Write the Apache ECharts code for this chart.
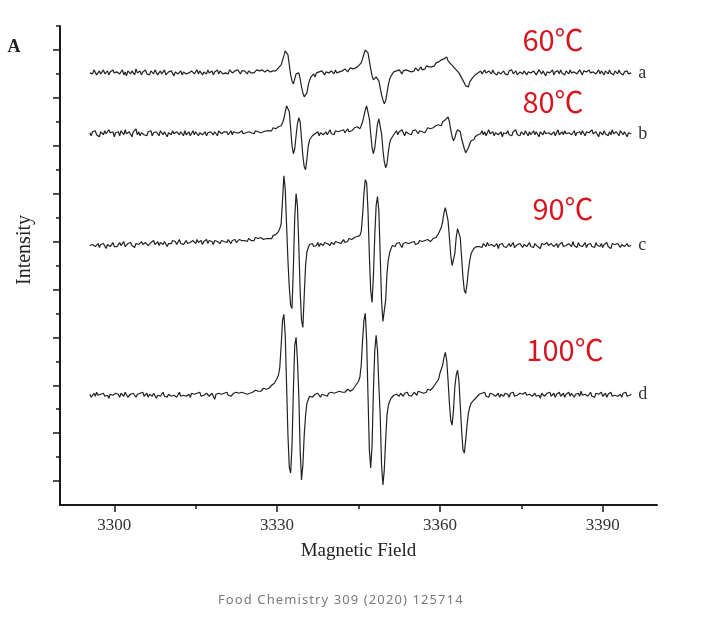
<!DOCTYPE html>
<html>
<head>
<meta charset="utf-8">
<script src="https://cdn.jsdelivr.net/npm/echarts@6/dist/echarts.min.js"></script>
<style>
  html, body { margin:0; padding:0; background:#fff; }
  #wrap { position:relative; width:718px; height:625px; }
  #chart { position:absolute; left:0; top:0; width:718px; height:625px; }
  #caption { position:absolute; left:218px; top:590px; font-family:'Noto Sans', sans-serif; font-size:13px; letter-spacing:1.1px; color:#7a7a7a; white-space:nowrap; }
</style>
</head>
<body>
<div id="wrap">
  <div id="chart"></div>
  <div id="caption">Food Chemistry 309 (2020) 125714</div>
</div>
<script>
// Sampling grid of the spectra (Gauss)
const fieldStart = 3295.5;
const fieldStep = 0.25;

const traceNames = ['a', 'b', 'c', 'd'];
const temperatures = ['60℃', '80℃', '90℃', '100℃'];
const traceOffsets = [433, 372, 260, 110];

const xTickValues = [3300, 3330, 3360, 3390];
const xMinorTickValues = [3315, 3345, 3375];
const yTickValues = [24, 72, 120, 168, 216, 264, 312, 360, 408, 456];
const yMinorTickValues = [48, 96, 144, 192, 240, 288, 336, 384, 432, 480];

// Trace a (60℃), intensity relative to its baseline
const traceA = [
  0,2,-1,3,1,-2,0,2,-1,1, 3,-1,0,2,-2,1,-1,3,0,-2, 1,2,-1,0,3,-2,1,-3,2,0, -1,2,1,-2,4,0,-1,2,-2,1,
  0,3,-1,1,-2,2,0,-1,3,1, -2,0,2,-1,1,3,-2,0,1,-1, 2,0,-3,1,2,-1,0,2,-2,1, 3,-1,1,0,-2,2,1,-1,0,3,
  -1,2,0,-2,1,1,-1,3,0,-1, 2,-2,1,0,3,-1,2,0,-1,1, 0,2,-1,3,1,0,-2,2,1,3, 1,-1,2,0,2,1,-1,2,3,0,
  2,0,1,3,1,2,0,3,2,1, 2,3,
  2,1,3,2,4,2,4,5,6,8, 10,17,22,23,18,8,-2,-8,-11,-6, -1,1,0,-6,-14,-20,-24,-26,-20,-12, -7,-4,
  -3,-1,-4,0,-2,1,-1,2,0,-2, 1,3,0,-1,2,1,-1,3,0,2, 1,3,2,0,4,2,1,3,5,3,
  4,2,5,4,7,6,10,14,19,23, 24,20,12,4,-3,-7,-8,-4,-3,-8, -15,-22,-27,-31,-28,-20,-12,-6,-3,-1,
  1,-1,2,0,3,1,-1,2,0,3, 1,2,4,1,3,2,5,3,2,4, 6,3,5,4,7,5,6,8,
  6,8,7,10,8,11,10,13,11,14, 13,16,12,11,9,10,6,7,3,4, 0,-1,-5,-6,-10,-13,-12,-14,-9,-8, -5,-6,-2,-3,0,-1,
  2,-1,1,3,0,-2,2,1,-1,3, 0,2,-2,1,3,-1,0,2,-1,1, -2,2,0,3,-1,1,2,-2,0,1, 3,-1,2,0,-2,1,3,0,-1,2,
  1,-2,0,3,1,-1,2,0,-3,1, 2,0,-1,3,-2,1,0,2,-1,3, 0,1,-2,2,1,-1,3,0,-2,1, 2,-1,0,3,1,-2,2,0,1,-1,
  3,0,-2,1,2,-1,0,3,-1,2, 0,-2,2,1,-1,3,0,1,-2,2, 1,-1,3,0,2,-2,1,0,2,-1, 1,0
];

// Trace b (80℃)
const traceB = [
  1,-2,2,0,3,-1,1,-3,2,0, -1,3,0,-2,4,1,-1,2,-3,1, 0,2,-2,3,1,-1,4,0,-2,2, 1,-3,2,0,5,-1,2,-2,1,3,
  -1,1,-2,2,0,3,-2,1,-1,2, 0,-2,3,1,-1,2,0,-3,1,2, -1,3,0,-2,2,1,-1,2,0,-2, 3,-1,1,2,-2,0,3,-1,2,0,
  -2,1,3,-1,0,2,-2,1,0,2, 1,-1,2,0,-2,3,1,0,-1,2, 0,2,-1,1,3,-1,2,0,1,3, 1,-1,3,0,2,1,-1,2,3,1,
  2,0,3,1,2,4,1,3,2,4, 3,5,
  3,5,3,6,4,5,4,7,6,8, 11,15,22,28,30,22,5,-12,-20,-15, -2,10,16,12,-5,-22,-33,-36,-25,-12, -6,-4,
  -2,-4,0,-1,2,-2,1,3,-1,0, 2,-1,1,4,0,2,-1,3,1,2, 0,3,2,4,1,3,5,2,4,3,
  4,6,4,7,6,5,8,12,18,24, 28,27,15,0,-14,-20,-14,-2,10,15, 13,0,-16,-28,-34,-30,-18,-9,-5,-3,
  -1,1,3,-1,2,0,4,1,-2,2, 3,0,2,-1,3,1,4,2,0,3, 5,2,4,1,3,6,4,5,
  4,6,5,8,6,9,10,8,12,11, 14,15,17,12,4,-3,-7,-4,1,4, 6,2,-5,-10,-15,-19,-18,-14,-10,-7, -5,-6,-3,-2,-1,1,
  0,3,-1,2,-2,1,4,0,-1,2, -2,1,3,-1,0,2,-3,1,2,0, 3,-1,1,-2,2,0,4,-1,1,-2, 2,0,-1,3,1,-2,2,-1,0,3,
  -1,2,0,-3,2,1,-1,3,0,-2, 1,3,-1,0,2,-2,1,4,-1,0, 2,-1,3,0,-2,1,2,-1,0,3, -2,1,0,2,-1,3,1,-2,2,0,
  1,-1,4,0,-2,2,1,-3,2,1, -1,3,0,1,-2,2,-1,4,0,-1, 2,0,-2,3,1,-1,2,0,-3,1, 2,0
];

// Trace c (90℃)
const traceC = [
  0,-2,1,3,-1,0,2,-2,1,-1, 2,0,-3,1,2,-1,0,3,-1,1, -1,1,3,0,2,4,-1,1,2,0, 3,0,1,-2,2,3,1,-1,4,1,
  1,3,4,0,2,3,1,5,1,2, 4,0,3,2,1,4,3,-1,2,3, 2,5,3,4,1,3,6,2,4,1, 3,5,2,4,3,1,5,4,2,6,
  3,2,5,1,4,3,6,2,5,3, 4,1,5,3,4,6,2,5,3,4, 5,3,6,4,2,5,4,6,3,5, 6,4,5,7,5,6,4,7,6,5,
  7,5,8,6,7,5,8,7,6,8, 7,8,
  7,9,7,10,9,11,12,14,17,22, 45,70,57,20,-15,-42,-60,-63,-22,28, 52,40,0,-45,-75,-82,-50,-20,-6,-2, 1,-1,
  2,-1,1,0,3,-1,2,1,0,3, 1,2,4,0,3,2,1,4,2,3, 5,2,4,6,3,5,4,7,5,6,
  6,8,6,9,8,10,14,30,52,66, 63,35,-10,-45,-57,-30,10,40,49,35, -10,-55,-76,-78,-55,-28,-14,-7,-3,0,
  1,-1,2,0,3,1,-2,2,0,3, 1,2,0,3,2,4,1,3,2,5, 3,4,2,5,4,6,5,4,
  5,7,6,8,10,12,11,18,24,33, 38,37,25,8,-10,-20,-22,-8,8,17, 19,8,-12,-32,-45,-48,-38,-25,-15,-8, -6,-3,-4,-1,1,-1,
  1,-2,2,0,-1,3,0,-2,1,2, -1,0,2,-3,1,0,2,-1,1,-2, 0,2,-1,1,3,-2,0,1,-1,2, 0,-2,1,2,-1,0,3,-1,1,-2,
  2,0,-1,1,-3,2,0,1,-1,3, 0,-2,2,1,-1,0,2,-2,1,0, 3,-1,1,0,-2,2,1,-1,4,0, 1,-2,3,0,2,-1,1,3,-2,1,
  0,2,-1,1,-2,3,0,1,-1,2, -2,1,0,3,-1,1,-3,2,0,1, -1,2,0,-2,1,3,-1,0,2,-1, 1,0
];

// Trace d (100℃)
const traceD = [
  1,-2,0,2,-1,3,0,-2,1,-1, 2,-1,1,0,-3,1,2,0,-1,2, 0,1,-2,2,0,-1,3,1,-2,0, 1,-1,2,0,-2,1,-1,2,0,3,
  -1,0,2,-2,1,0,-1,2,1,-3, 0,2,-1,1,3,-1,0,-2,1,2, -1,1,0,2,-2,0,3,-1,1,0, 2,-1,0,1,-2,2,0,1,-1,2,
  0,3,-1,1,0,-2,2,0,-1,1, 2,0,-4,1,-1,2,0,1,-1,2, 1,3,0,2,-1,1,2,0,3,1, 2,0,3,1,2,4,1,3,2,4,
  3,2,5,3,4,6,4,5,7,5, 6,8,
  7,9,10,9,12,14,17,20,28,50, 75,81,60,10,-40,-72,-78,-50,5,50, 58,35,0,-55,-85,-70,-40,-20,-8,-4, -1,1,
  -2,0,1,-1,2,0,-2,1,3,0, 1,-1,2,0,3,1,2,0,3,2, 4,2,3,5,3,4,6,5,4,6,
  6,8,10,12,14,18,30,55,75,82, 55,0,-55,-73,-50,5,45,60,45,10, -20,-70,-90,-75,-45,-20,-10,-6,-3,-1,
  0,-2,1,3,-1,2,0,-1,2,1, 3,0,2,-1,1,3,2,0,4,2, 3,5,2,4,3,6,4,5,
  6,8,9,12,14,16,22,20,30,38, 43,35,15,-8,-25,-30,-15,8,20,25, 15,-10,-35,-55,-58,-45,-30,-18,-12,-8, -6,-5,-3,-2,0,1,
  -1,2,0,3,-1,1,-2,2,0,1, 3,-1,0,2,-2,1,0,-1,2,0, 1,-2,2,0,3,-1,1,0,-2,2, 0,1,-1,3,0,-2,1,2,-1,0,
  2,-1,1,0,-3,2,1,-1,0,2, 1,3,-1,0,2,-2,1,0,3,-1, 0,2,-2,1,0,3,-1,2,0,-2, 1,0,2,-1,4,0,-2,1,2,-1,
  0,3,-1,1,-2,2,0,1,-1,3, -1,0,2,-2,1,0,3,-1,1,0, 2,-1,0,1,-2,2,0,3,-1,1, 0,1
];

const traces = [traceA, traceB, traceC, traceD];

const serifFont = "'Liberation Serif', 'DejaVu Serif', serif";
const chart = echarts.init(document.getElementById('chart'), null, { renderer: 'canvas' });

const axisColor = '#1a1a1a';

const option = {
  animation: false,
  backgroundColor: '#ffffff',
  grid: { left: 60, right: 61, top: 26, bottom: 120, containLabel: false },
  xAxis: [
    {
      type: 'value', min: 3290, max: 3400,
      axisLine: { show: true, onZero: false, lineStyle: { color: axisColor, width: 2 } },
      axisTick: { show: true, customValues: xTickValues, length: 7, inside: false, lineStyle: { color: axisColor, width: 1.5 } },
      axisLabel: { show: true, customValues: xTickValues, formatter: (v) => String(v), fontFamily: serifFont, fontSize: 17, color: '#333', margin: 12 },
      splitLine: { show: false },
      name: 'Magnetic Field', nameLocation: 'middle', nameGap: 37,
      nameTextStyle: { fontFamily: serifFont, fontSize: 19, color: '#222' }
    },
    {
      type: 'value', min: 3290, max: 3400, position: 'bottom',
      axisLine: { show: false },
      axisTick: { show: true, customValues: xMinorTickValues, length: 4, inside: false, lineStyle: { color: axisColor, width: 1.5 } },
      axisLabel: { show: false },
      splitLine: { show: false }
    }
  ],
  yAxis: [
    {
      type: 'value', min: 0, max: 480,
      axisLine: { show: true, onZero: false, lineStyle: { color: axisColor, width: 2 } },
      axisTick: { show: true, customValues: yTickValues, length: 7, inside: false, lineStyle: { color: axisColor, width: 1.5 } },
      axisLabel: { show: false },
      splitLine: { show: false }
    },
    {
      type: 'value', min: 0, max: 480, position: 'left',
      axisLine: { show: false },
      axisTick: { show: true, customValues: yMinorTickValues, length: 4, inside: false, lineStyle: { color: axisColor, width: 1.5 } },
      axisLabel: { show: false },
      splitLine: { show: false }
    }
  ],
  graphic: [
    { type: 'text', x: 14, y: 47, style: { text: 'A', font: "bold 18px 'Liberation Serif'", fill: '#222', align: 'center', verticalAlign: 'middle' } },
    { type: 'text', x: 25, y: 250, rotation: Math.PI / 2, style: { text: 'Intensity', font: "20px 'Liberation Serif'", fill: '#222', align: 'center', verticalAlign: 'middle' } },
    { type: 'text', x: 553, y: 40, style: { text: temperatures[0], font: "29px 'Noto Sans CJK SC'", fill: '#d6171f', align: 'center', verticalAlign: 'middle' } },
    { type: 'text', x: 553, y: 102, style: { text: temperatures[1], font: "29px 'Noto Sans CJK SC'", fill: '#d6171f', align: 'center', verticalAlign: 'middle' } },
    { type: 'text', x: 563, y: 209, style: { text: temperatures[2], font: "29px 'Noto Sans CJK SC'", fill: '#d6171f', align: 'center', verticalAlign: 'middle' } },
    { type: 'text', x: 565, y: 350, style: { text: temperatures[3], font: "29px 'Noto Sans CJK SC'", fill: '#d6171f', align: 'center', verticalAlign: 'middle' } }
  ],
  series: traces.map((vals, k) => ({
    type: 'line',
    name: traceNames[k],
    xAxisIndex: 0, yAxisIndex: 0,
    symbol: 'none', showSymbol: false, silent: true,
    lineStyle: { color: '#222', width: 1.2 },
    data: vals.map((v, i) => [fieldStart + i * fieldStep, traceOffsets[k] + v]),
    endLabel: { show: true, formatter: traceNames[k], distance: 7, fontFamily: serifFont, fontSize: 18, color: '#333' }
  }))
};

chart.setOption(option);
</script>
</body>
</html>
